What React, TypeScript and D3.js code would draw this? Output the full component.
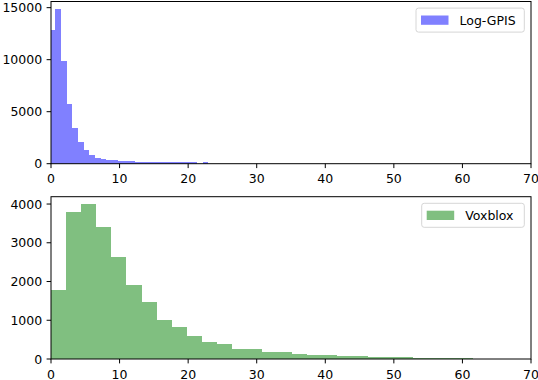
import React from "react";
import * as d3 from "d3";

const gpisCounts = [12900, 14850, 9870, 5750, 3450, 2080, 1320, 860, 560, 410, 400, 390, 300, 230, 220, 150, 150, 145, 145, 145, 140, 140, 140, 140, 140, 140, 0, 140];
const gpisRange = [-0.18, 22.95];
const voxCounts = [1780, 3800, 3990, 3400, 2640, 1910, 1470, 1000, 825, 595, 440, 385, 260, 255, 185, 180, 130, 105, 100, 78, 75, 52, 50, 48, 28, 26, 25, 22];
const voxRange = [0.02, 61.54];
const xTicks = [0, 10, 20, 30, 40, 50, 60, 70];
const gpisYTicks = [0, 5000, 10000, 15000];
const voxYTicks = [0, 1000, 2000, 3000, 4000];
const legendLabels = ["Log-GPIS", "Voxblox"];

const FONT = "DejaVu Sans, sans-serif";
const FS = 12.5;
const L = 51, R = 531;

type PanelProps = {
  counts: number[];
  range: number[];
  yTicks: number[];
  top: number;
  bottom: number;
  color: string;
  label: string;
  legendLeft: number;
  id: string;
};

function Panel({ counts, range, yTicks, top, bottom, color, label, legendLeft, id }: PanelProps) {
  const x = d3.scaleLinear().domain([0, 70]).range([L, R]);
  const ymax = (d3.max(counts) as number) * 1.05;
  const y = d3.scaleLinear().domain([0, ymax]).range([bottom, top]);
  const n = counts.length;
  const w = (range[1] - range[0]) / n;
  const edges = d3.range(n + 1).map((i) => range[0] + i * w);
  const tl = 4.4;
  const legTop = top + 6.6;
  const legH = 24;
  const legRight = 524.3;
  const cy = legTop + legH / 2;
  return (
    <g>
      <defs>
        <clipPath id={id}>
          <rect x={L} y={top} width={R - L} height={bottom - top} />
        </clipPath>
      </defs>
      <g clipPath={`url(#${id})`}>
        {counts.map((c, i) =>
          c > 0 ? (
            <rect
              key={i}
              x={x(edges[i])}
              y={y(c)}
              width={x(edges[i + 1]) - x(edges[i])}
              height={bottom - y(c)}
              fill={color}
              shapeRendering="crispEdges"
            />
          ) : null
        )}
      </g>
      <rect x={L} y={top} width={R - L} height={bottom - top} fill="none" stroke="#000" strokeWidth={1} />
      {xTicks.map((t) => (
        <g key={"x" + t}>
          <line x1={x(t)} x2={x(t)} y1={bottom} y2={bottom + tl} stroke="#000" strokeWidth={1} />
          <text x={x(t)} y={bottom + 19.5} textAnchor="middle" fontFamily={FONT} fontSize={FS} fill="#000">
            {t}
          </text>
        </g>
      ))}
      {yTicks.map((t) => (
        <g key={"y" + t}>
          <line x1={L - tl} x2={L} y1={y(t)} y2={y(t)} stroke="#000" strokeWidth={1} />
          <text x={L - tl - 4.4} y={y(t) + 4.6} textAnchor="end" fontFamily={FONT} fontSize={FS} fill="#000">
            {t}
          </text>
        </g>
      ))}
      <rect
        x={legendLeft}
        y={legTop}
        width={legRight - legendLeft}
        height={legH}
        rx={2.5}
        fill="#fff"
        fillOpacity={0.8}
        stroke="#d6d6d6"
        strokeWidth={1}
      />
      <rect x={legendLeft + 5} y={cy - 4.6} width={27.5} height={9.3} fill={color} />
      <text x={legendLeft + 43.5} y={cy + 4.5} fontFamily={FONT} fontSize={FS} fill="#000">
        {label}
      </text>
    </g>
  );
}

export default function App() {
  return (
    <svg
      width={538}
      height={380}
      style={{ position: "absolute", left: 0, top: 0, background: "#fff" }}
    >
      <rect x={0} y={0} width={538} height={380} fill="#fff" />
      <Panel
        counts={gpisCounts}
        range={gpisRange}
        yTicks={gpisYTicks}
        top={1.5}
        bottom={163.7}
        color="#8080ff"
        label={legendLabels[0]}
        legendLeft={416}
        id="clipTop"
      />
      <Panel
        counts={voxCounts}
        range={voxRange}
        yTicks={voxYTicks}
        top={196.7}
        bottom={359}
        color="#80bf80"
        label={legendLabels[1]}
        legendLeft={421.7}
        id="clipBot"
      />
    </svg>
  );
}
